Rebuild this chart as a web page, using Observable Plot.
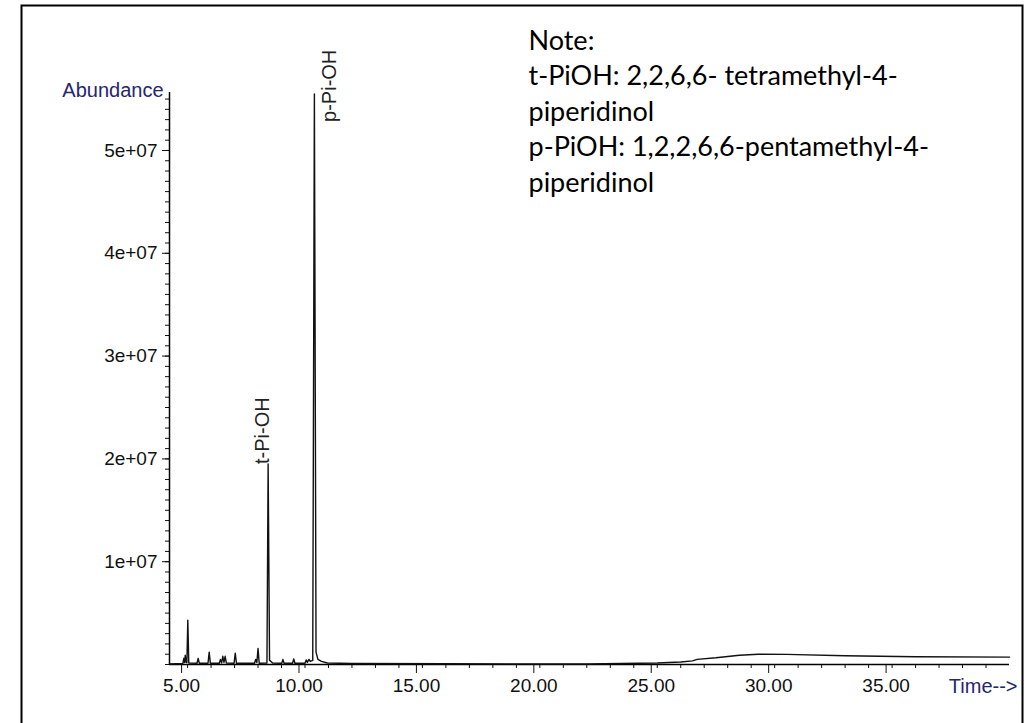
<!DOCTYPE html>
<html><head><meta charset="utf-8">
<script src="https://cdn.jsdelivr.net/npm/d3@7"></script>
<script src="https://cdn.jsdelivr.net/npm/@observablehq/plot@0.6"></script>
<style>html,body{margin:0;padding:0;background:#fff;} #chart svg{display:block}</style>
</head><body><div id="chart"></div>
<script>
// Chromatogram trace (time in minutes, abundance)
const traceTime = [4.23, 4.80, 4.84, 4.87, 4.90, 4.94, 4.97, 5.01, 5.05, 5.40, 5.45, 5.50, 5.87, 5.92, 5.97,
  6.35, 6.40, 6.45, 6.50, 6.55, 6.60, 6.65, 6.98, 7.03, 7.08, 7.85, 7.90, 7.95, 8.00, 8.05,
  8.38, 8.43, 8.49, 8.55, 8.62, 9.01, 9.06, 9.11, 9.47, 9.52, 9.57, 10.00, 10.05, 10.10, 10.17, 10.22,
  10.33, 10.40, 10.47, 10.55, 10.70, 10.95, 12.00, 16.00, 20.00, 22.00, 23.50, 25.00, 26.00, 26.50,
  26.70, 27.50, 28.50, 29.30, 30.50, 33.00, 36.00, 40.00];
const traceAbundance = [0.05e6, 0.10e6, 0.60e6, 0.20e6, 0.90e6, 0.20e6, 0.20e6, 4.3e6, 0.15e6, 0.12e6, 0.60e6, 0.12e6, 0.12e6, 1.20e6, 0.12e6,
  0.12e6, 0.50e6, 0.15e6, 0.80e6, 0.20e6, 0.80e6, 0.15e6, 0.12e6, 1.10e6, 0.12e6, 0.12e6, 0.50e6, 0.20e6, 1.55e6, 0.12e6,
  0.15e6, 19.5e6, 0.40e6, 0.30e6, 0.15e6, 0.12e6, 0.50e6, 0.12e6, 0.12e6, 0.55e6, 0.12e6, 0.12e6, 0.45e6, 0.20e6, 0.50e6, 0.30e6,
  0.40e6, 55.5e6, 1.20e6, 0.50e6, 0.30e6, 0.15e6, 0.10e6, 0.08e6, 0.05e6, 0.05e6, 0.10e6, 0.15e6, 0.25e6, 0.35e6,
  0.50e6, 0.65e6, 0.90e6, 1.00e6, 0.98e6, 0.85e6, 0.75e6, 0.72e6];

const peakNames = ["t-Pi-OH", "p-Pi-OH"];
const peakTimes = [8.43, 10.40];
const peakHeights = [19.5e6, 55.5e6];

const xTickValues = [5, 10, 15, 20, 25, 30, 35];
const xTickLabels = ["5.00", "10.00", "15.00", "20.00", "25.00", "30.00", "35.00"];
const xMinorTicks = [5, 6, 7, 8, 9, 10, 11, 12, 13, 14, 15, 16, 17, 18, 19, 20, 21, 22, 23, 24, 25, 26, 27, 28, 29, 30, 31, 32, 33, 34, 35, 36, 37, 38, 39];
const yTickValues = [1e7, 2e7, 3e7, 4e7, 5e7];
const yTickLabels = ["1e+07", "2e+07", "3e+07", "4e+07", "5e+07"];
const yMinorTicks = d3.range(0, 55.5e6, 1e6);
const noteLines = ["Note:", "t-PiOH: 2,2,6,6- tetramethyl-4-", "piperidinol", "p-PiOH: 1,2,2,6,6-pentamethyl-4-", "piperidinol"];

const xDomain = [4.23, 40];
const yDomain = [0, 5.564e7];

const trace = traceTime.map((t, i) => ({time: t, abundance: traceAbundance[i]}));
const peaks = peakNames.map((n, i) => ({name: n, time: peakTimes[i], abundance: peakHeights[i]}));
const navy = "#26266e";

const chart = Plot.plot({
  width: 1028, height: 723,
  marginLeft: 169, marginRight: 19, marginTop: 92, marginBottom: 59,
  style: {fontFamily: "'Liberation Sans', Arial, sans-serif", background: "#fff", color: "#111"},
  x: {domain: xDomain},
  y: {domain: yDomain},
  marks: [
    Plot.frame({stroke: "#000", strokeWidth: 2, insetLeft: -148, insetTop: -87, insetRight: -13, insetBottom: -62}),
    Plot.axisX({ticks: xMinorTicks, tickSize: 4, tickFormat: () => "", label: null, stroke: "#111"}),
    Plot.axisX({ticks: xTickValues, tickSize: 9, tickPadding: 5, tickFormat: d => xTickLabels[xTickValues.indexOf(d)], fontSize: 19, dx: -6, label: null, stroke: "#111", fill: "#111"}),
    Plot.axisY({ticks: yMinorTicks, tickSize: 4, tickFormat: () => "", label: null, stroke: "#111"}),
    Plot.axisY({ticks: yTickValues, tickSize: 7, tickPadding: 5, tickFormat: d => yTickLabels[yTickValues.indexOf(d)], fontSize: 19, label: null, stroke: "#111", fill: "#111"}),
    Plot.ruleX([xDomain[0]], {stroke: "#000", strokeWidth: 1.5}),
    Plot.ruleY([0], {stroke: "#000", strokeWidth: 1.5}),
    Plot.line(trace, {x: "time", y: "abundance", stroke: "#111", strokeWidth: 1.4}),
    Plot.text([peaks[0]], {x: "time", y: "abundance", text: "name", rotate: -90, textAnchor: "start", lineAnchor: "middle", dx: -6, dy: 0, fontSize: 20, fill: "#222"}),
    Plot.text([peaks[1]], {x: "time", y: "abundance", text: "name", rotate: -90, textAnchor: "start", lineAnchor: "middle", dx: 15, dy: 28, fontSize: 20, fill: "#222"}),
    Plot.text(["Abundance"], {frameAnchor: "top-left", dx: -6, dy: -10, textAnchor: "end", fill: navy, fontSize: 20}),
    Plot.text(["Time-->"], {frameAnchor: "bottom-right", dx: 8, dy: 28, textAnchor: "end", fill: navy, fontSize: 20}),
    Plot.text([noteLines.join("\n")], {frameAnchor: "top-left", dx: 359, dy: -68, textAnchor: "start", lineAnchor: "top", lineHeight: 1.315, fontSize: 27, fontFamily: "Lato", fill: "#000"})
  ]
});
document.getElementById("chart").appendChild(chart);
</script>
</body></html>
